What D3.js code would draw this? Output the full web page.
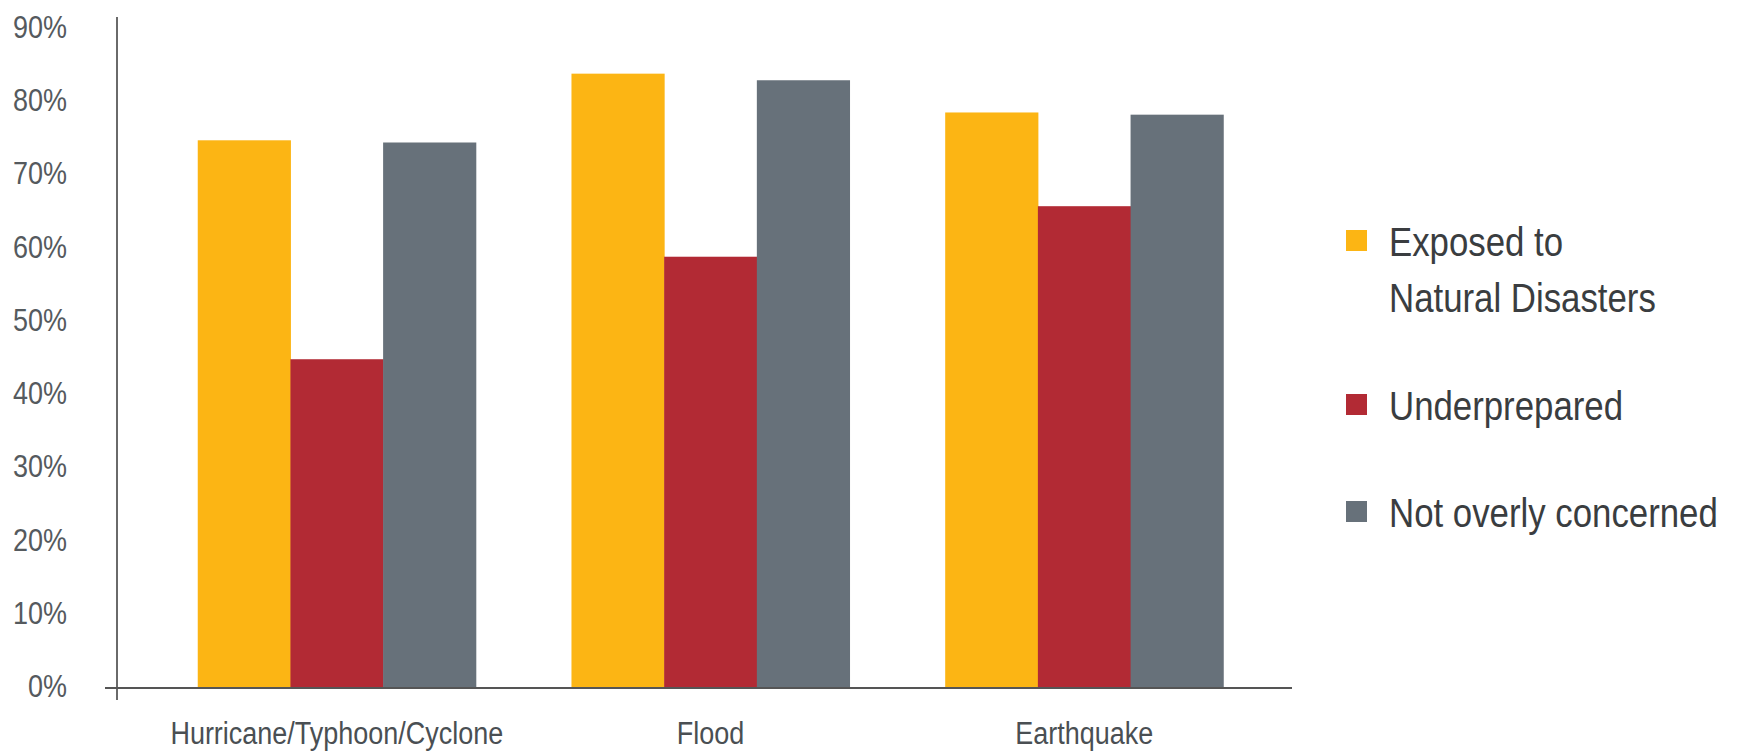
<!DOCTYPE html>
<html>
<head>
<meta charset="utf-8">
<script src="https://cdn.jsdelivr.net/npm/d3@7"></script>
<style>
  html, body { margin: 0; padding: 0; background: #fff; }
  svg { display: block; }
  text { font-family: "Liberation Sans", Arial, sans-serif; }
</style>
</head>
<body>
<svg id="chart" width="1739" height="751"></svg>
<script>
const categories = ["Hurricane/Typhoon/Cyclone", "Flood", "Earthquake"];
const seriesNames = ["Exposed to Natural Disasters", "Underprepared", "Not overly concerned"];
const legendLines = [["Exposed to", "Natural Disasters"], ["Underprepared"], ["Not overly concerned"]];
const exposed = [74.8, 83.9, 78.6];
const underprepared = [44.9, 58.9, 65.8];
const notConcerned = [74.5, 83.0, 78.3];
const yTicks = [0, 10, 20, 30, 40, 50, 60, 70, 80, 90];
const colors = ["#FCB514", "#B22A34", "#67717A"];

const series = [exposed, underprepared, notConcerned];
const condense = 0.87;

const svg = d3.select("#chart");

const y = d3.scaleLinear().domain([0, 90]).range([688, 29]);
const x0 = d3.scaleBand().domain(categories).range([123, 1298]).paddingInner(0.256).paddingOuter(0.2);
const x1 = d3.scaleBand().domain(seriesNames).range([0, x0.bandwidth()]).padding(0);

// bars
const groups = svg.append("g").selectAll("g")
  .data(categories)
  .join("g")
  .attr("transform", d => `translate(${x0(d)},0)`);

groups.selectAll("rect")
  .data((d, i) => seriesNames.map((s, j) => ({ s, v: series[j][i], j })))
  .join("rect")
  .attr("x", d => x1(d.s))
  .attr("width", x1.bandwidth() + 0.5)
  .attr("y", d => y(d.v))
  .attr("height", d => y(0) - y(d.v))
  .attr("fill", d => colors[d.j]);

// y axis line
svg.append("line")
  .attr("x1", 117).attr("x2", 117)
  .attr("y1", 17).attr("y2", 700)
  .attr("stroke", "#6a6a6a").attr("stroke-width", 2);

// x axis line
svg.append("line")
  .attr("x1", 105).attr("x2", 1292)
  .attr("y1", y(0)).attr("y2", y(0))
  .attr("stroke", "#555").attr("stroke-width", 2);

// helper for condensed text
function ctext(parent, x, yy, str, size, fill, anchor) {
  parent.append("g")
    .attr("transform", `translate(${x},${yy}) scale(${condense},1)`)
    .append("text")
    .attr("text-anchor", anchor)
    .attr("font-size", size)
    .attr("fill", fill)
    .text(str);
}

// y tick labels
const yt = svg.append("g");
yTicks.forEach(d => ctext(yt, 67, y(d) + 9, d + "%", 31, "#555a5e", "end"));

// category labels
const cl = svg.append("g");
categories.forEach(d => ctext(cl, x0(d) + x0.bandwidth() / 2, 744, d, 31, "#4a4f53", "middle"));

// legend
const legendY = [241, 405, 512];
const legend = svg.append("g");
legendLines.forEach((lines, i) => {
  legend.append("rect")
    .attr("x", 1346).attr("y", legendY[i] - 11)
    .attr("width", 21).attr("height", 21)
    .attr("fill", colors[i]);
  lines.forEach((ln, k) => {
    ctext(legend, 1389, legendY[i] + 15 + k * 56, ln, 40, "#3a3d40", "start");
  });
});
</script>
</body>
</html>
